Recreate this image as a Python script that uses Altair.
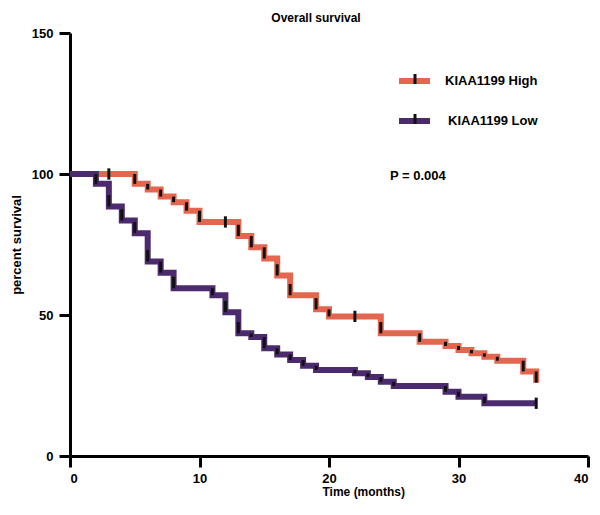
import altair as alt
import pandas as pd

FONT = "Liberation Sans"

# Kaplan-Meier step data (time in months, percent survival after the event)
high_time = [0, 3, 5, 6, 7, 8, 9, 10, 12, 13, 14, 15, 16, 17, 19, 20, 22, 24, 27, 29, 30, 31, 32, 33, 35, 36]
high_surv = [100, 100, 96.5, 94.5, 92, 90, 87, 83, 83, 78, 74, 70, 64, 57, 52, 49.5, 49.5, 43.5, 40.5, 39, 37.6, 36.4, 35.2, 33.8, 30, 26]
low_time = [0, 2, 3, 4, 5, 6, 7, 8, 11, 12, 13, 14, 15, 16, 17, 18, 19, 22, 23, 24, 25, 29, 30, 32, 36]
low_surv = [100, 96.5, 88.5, 83.5, 79, 69, 65, 59.5, 57, 51, 43.5, 42.2, 38.2, 36, 34, 32, 30.5, 29.3, 28, 26.3, 24.8, 22.8, 21, 18.7, 18.7]

groups = ["KIAA1199 High", "KIAA1199 Low"]
colors = ["#E4664F", "#4B2B6E"]
x_ticks = [0, 10, 20, 30, 40]
y_ticks = [0, 50, 100, 150]
chart_title = "Overall survival"


def build(group, times, surv):
    rows, ticks = [], []
    for i, (t, s) in enumerate(zip(times, surv)):
        rows.append({"group": group, "time": t, "surv": s})
        if i > 0:
            prev = surv[i - 1]
            if prev - s < 1:
                lo, hi = s - 2, s + 2
            else:
                lo, hi = s, min(prev, s + 4)
            ticks.append({"group": group, "time": t, "lo": lo, "hi": hi})
    return rows, ticks


r1, t1 = build(groups[0], high_time, high_surv)
r2, t2 = build(groups[1], low_time, low_surv)
lines_df = pd.DataFrame(r1 + r2)
ticks_df = pd.DataFrame(t1 + t2)

xscale = alt.Scale(domain=[0, 40], nice=False)
yscale = alt.Scale(domain=[0, 150], nice=False)

x_enc = alt.X("time:Q", scale=xscale,
              axis=alt.Axis(values=x_ticks, title="Time (months)", labelPadding=5,
                            titlePadding=1, titleX=252, titleAnchor="start",
                            titleFontSize=12))
y_enc = alt.Y("surv:Q", scale=yscale,
              axis=alt.Axis(values=y_ticks, title="percent survival", labelPadding=6,
                            titlePadding=8))

high_line = alt.Chart(lines_df[lines_df["group"] == groups[0]]).mark_line(
    interpolate="step-after", strokeWidth=6, color=colors[0]
).encode(x=x_enc, y=y_enc)

low_line = alt.Chart(lines_df[lines_df["group"] == groups[1]]).mark_line(
    interpolate="step-after", strokeWidth=6, color=colors[1]
).encode(x=alt.X("time:Q", scale=xscale), y=alt.Y("surv:Q", scale=yscale))

tick_marks = alt.Chart(ticks_df).mark_rule(color="#111111", strokeWidth=3).encode(
    x=alt.X("time:Q", scale=xscale),
    y=alt.Y("lo:Q", scale=yscale),
    y2="hi:Q",
)


def legend_item(label, color, py, tx):
    base = alt.Chart(pd.DataFrame({"label": [label]}))
    seg = base.mark_rule(color=color, strokeWidth=6).encode(
        x=alt.value(329), x2=alt.value(360), y=alt.value(py))
    tk = base.mark_rule(color="#111111", strokeWidth=3).encode(
        x=alt.value(345), y=alt.value(py - 7), y2=alt.value(py + 3))
    txt = base.mark_text(align="left", baseline="middle", font=FONT, fontWeight="bold",
                         fontSize=13, color="black").encode(
        x=alt.value(tx), y=alt.value(py), text="label:N")
    return [seg, tk, txt]


legend_layers = legend_item(groups[0], colors[0], 48, 375) + legend_item(groups[1], colors[1], 88, 378)

p_text = alt.Chart(pd.DataFrame({"label": ["P = 0.004"]})).mark_text(
    align="left", baseline="middle", font=FONT, fontWeight="bold", fontSize=13, color="black"
).encode(x=alt.value(320), y=alt.value(143), text="label:N")

title_text = alt.Chart(pd.DataFrame({"label": [chart_title]})).mark_text(
    align="center", baseline="middle", font=FONT, fontWeight="bold", fontSize=12, color="black"
).encode(x=alt.value(246), y=alt.value(-15), text="label:N")

chart = alt.layer(high_line, low_line, tick_marks, *legend_layers, p_text, title_text).properties(
    width=518,
    height=423,
    autosize=alt.AutoSizeParams(type="none"),
    padding={"left": 62, "top": 25, "right": 4, "bottom": 46},
).configure_view(stroke=None).configure_axis(
    grid=False,
    domainColor="black",
    domainWidth=3,
    tickColor="black",
    tickWidth=3,
    tickSize=11,
    labelFont=FONT,
    labelFontWeight="bold",
    labelFontSize=13,
    labelColor="black",
    titleFont=FONT,
    titleFontWeight="bold",
    titleFontSize=13,
    titleColor="black",
)

chart.save("out.html", embed_options={"renderer": "svg", "actions": False})
